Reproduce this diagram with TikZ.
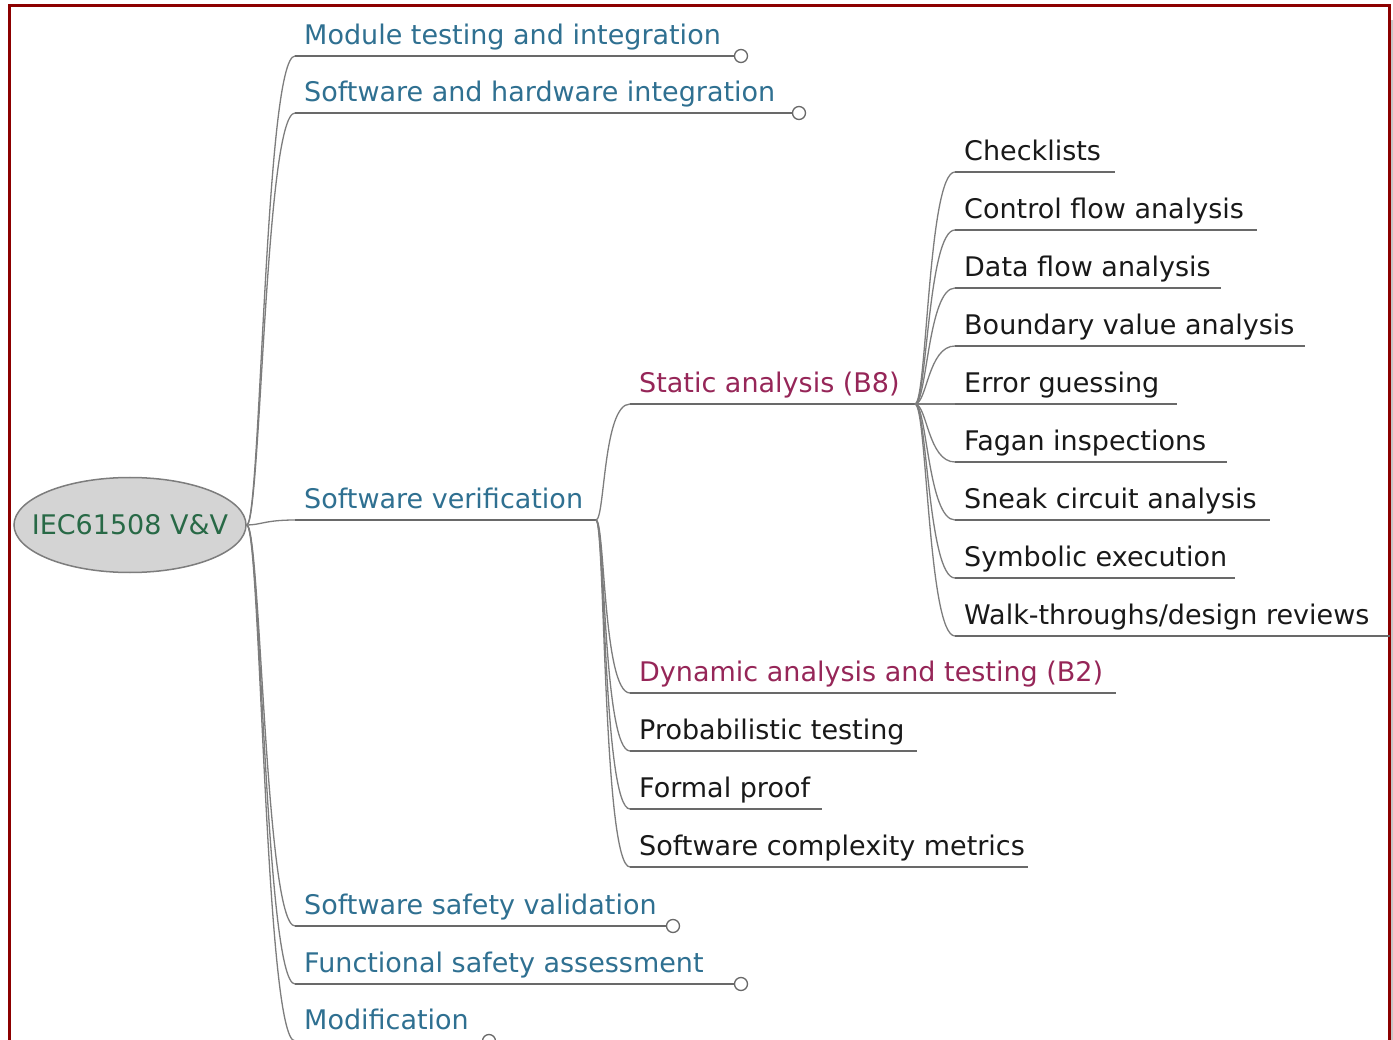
\documentclass[tikz,border=0pt]{standalone}
\usepackage{fontspec}
\setmainfont{DejaVu Sans}
\usetikzlibrary{shapes.geometric}
\definecolor{lvone}{RGB}{47,112,145}
\definecolor{lvtwo}{RGB}{150,38,88}
\definecolor{lvthree}{RGB}{25,25,25}
\definecolor{rootc}{RGB}{40,105,70}
\definecolor{rootfill}{RGB}{212,212,212}
\definecolor{ulc}{RGB}{105,105,105}
\definecolor{conc}{RGB}{125,125,125}
\definecolor{framec}{RGB}{140,0,0}
\begin{document}
\begin{tikzpicture}[x=1pt,y=-1pt,
  every node/.style={font=\fontsize{27}{32}\selectfont},
  item/.style={anchor=south west, inner xsep=9pt, inner ysep=4pt, text height=20pt, text depth=7pt},
  lone/.style={item, text=lvone},
  ltwo/.style={item, text=lvtwo},
  lthree/.style={item, text=lvthree},
  uline/.style={draw=ulc, line width=1.5pt},
  conn/.style={draw=conc, line width=1.3pt},
  knob/.style={circle, draw=ulc, fill=white, line width=1.3pt, minimum size=13pt, inner sep=0pt},
]
\clip (0,0) rectangle (1393,1040);
\fill[white] (0,0) rectangle (1393,1040);
% frame
\fill[gray!45] (1390.5,20) rectangle (1393,1040);
\draw[framec, line width=3pt] (9,6) rectangle (1389,1100);

% root
\node[ellipse, draw=conc, fill=rootfill, line width=1.5pt, minimum width=232pt, minimum height=95pt, inner sep=0pt] (root) at (130,525) {};
\node[text=rootc, inner sep=0pt] (rootlabel) at (root.center) {IEC61508 V\&V};

% level 1
\node[lone] (m1) at (295,56) {Module testing and integration};
\node[lone] (m2) at (295,113) {Software and hardware integration};
\node[lone] (sv) at (295,520) {Software verification};
\node[lone] (m4) at (295,926) {Software safety validation};
\node[lone] (m5) at (295,984) {Functional safety assessment};
\node[lone] (m6) at (295,1041) {Modification};

\coordinate (svb) at (596,520);

\foreach \n in {m1,m2,sv,m4,m5,m6}
  \draw[conn] (root.east) .. controls +(14,0) and +(-30,0) .. (\n.south west);

\foreach \n/\kx in {m1/741,m2/799,m4/673,m5/741,m6/489}{
  \node[knob] (\n k) at (\kx,0 |- \n.south east) {};
  \draw[uline] (\n.south west) -- (\n k.west);
}
\draw[uline] (sv.south west) -- (svb);

% level 2
\node[ltwo] (sa) at (630,404) {Static analysis (B8)};
\node[ltwo] (da) at (630,693) {Dynamic analysis and testing (B2)};
\node[lthree] (pt) at (630,751) {Probabilistic testing};
\node[lthree] (fp) at (630,809) {Formal proof};
\node[lthree] (sc) at (630,867) {Software complexity metrics};

\coordinate (sab) at (915,404);

\foreach \n/\ex in {sa/915,da/1116,pt/917,fp/822,sc/1028}{
  \draw[conn] (svb) .. controls +(9,0) and +(-27,0) .. (\n.south west);
  \draw[uline] (\n.south west) -- (\ex,0 |- \n.south west);
}

% level 3
\node[lthree] (c1) at (955,172) {Checklists};
\node[lthree] (c2) at (955,230) {Control flow analysis};
\node[lthree] (c3) at (955,288) {Data flow analysis};
\node[lthree] (c4) at (955,346) {Boundary value analysis};
\node[lthree] (c5) at (955,404) {Error guessing};
\node[lthree] (c6) at (955,462) {Fagan inspections};
\node[lthree] (c7) at (955,520) {Sneak circuit analysis};
\node[lthree] (c8) at (955,578) {Symbolic execution};
\node[lthree] (c9) at (955,636) {Walk-throughs/design reviews};

\foreach \n/\ex in {c1/1115,c2/1257,c3/1221,c4/1305,c5/1177,c6/1227,c7/1270,c8/1235,c9/1390}{
  \draw[conn] (sab) .. controls +(12,0) and +(-27,0) .. (\n.south west);
  \draw[uline] (\n.south west) -- (\ex,0 |- \n.south west);
}
\end{tikzpicture}
\end{document}
